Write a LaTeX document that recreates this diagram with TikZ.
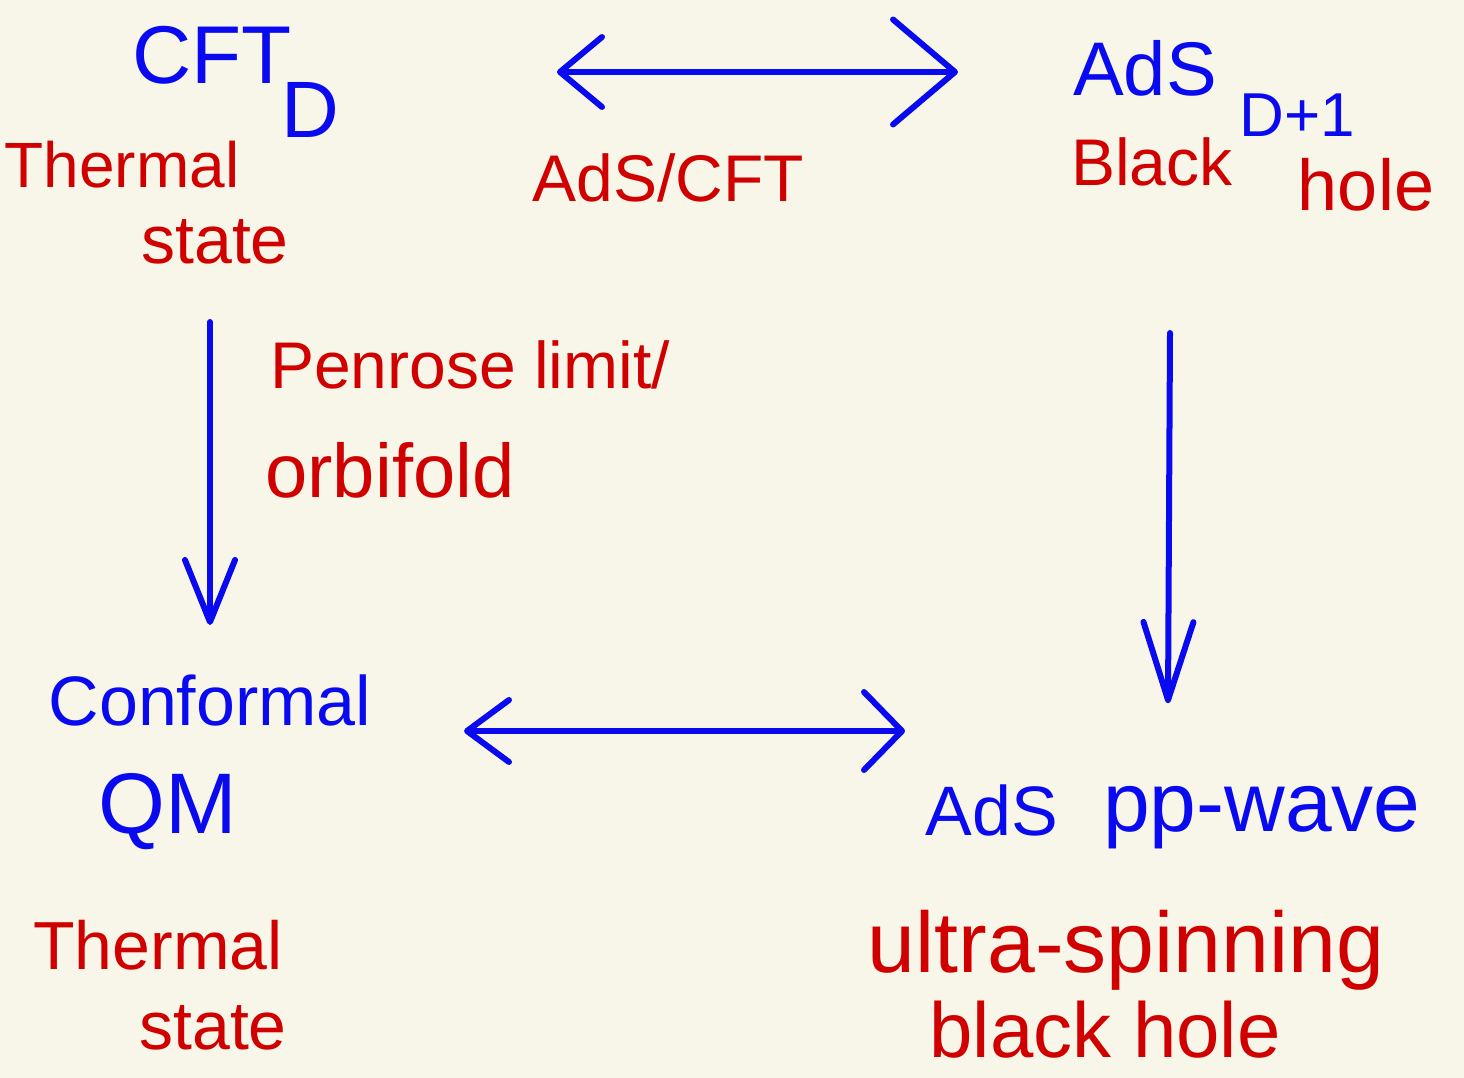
\documentclass[tikz,border=0pt]{standalone}
\usepackage{fontspec}
\setmainfont{Liberation Sans}
\usetikzlibrary{arrows.meta}
\definecolor{bgc}{HTML}{F8F5E9}
\definecolor{pen}{HTML}{0A0AF0}
\definecolor{ink}{HTML}{D00000}
\tikzset{
  fsz/.style={font=\fontsize{#1}{#1}\selectfont},
  bluetxt/.style={text=pen, inner sep=0pt, anchor=center},
  redtxt/.style={text=ink, inner sep=0pt, anchor=center},
  conn/.style={draw=pen, line width=6pt, line cap=round, line join=round},
}
\begin{document}
\begin{tikzpicture}[x=1pt,y=-1pt]
\useasboundingbox (0,0) rectangle (1464,1078);
\fill[bgc] (0,0) rectangle (1464,1078);
% top left
\node[bluetxt, fsz=82] (cft) at (212,55) {CFT};
\node[bluetxt, fsz=80] (cftD) at (310,110) {D};
\node[redtxt, fsz=64] (th1) at (122,165) {Thermal};
\node[redtxt, fsz=68] (st1) at (215,242) {state};
% top middle
\node[redtxt, fsz=66] (adscft) at (668,178) {AdS/CFT};
% top right
\node[bluetxt, fsz=76] (ads) at (1145,68) {AdS};
\node[bluetxt, fsz=62] (adsD) at (1297,115) {D+1};
\node[redtxt, fsz=66] (blk) at (1152,162) {Black};
\node[redtxt, fsz=72] (hole) at (1366,185) {hole};
% middle left label
\node[redtxt, fsz=66] (pen) at (470,365) {Penrose limit/};
\node[redtxt, fsz=76] (orb) at (390,470) {orbifold};
% bottom left
\node[bluetxt, fsz=70] (conf) at (210,700) {Conformal};
\node[bluetxt, fsz=86] (qm) at (168,812) {QM};
\node[redtxt, fsz=68] (th2) at (158,945) {Thermal};
\node[redtxt, fsz=68] (st2) at (213,1028) {state};
% bottom right
\node[bluetxt, fsz=70] (ads2) at (992,810) {AdS};
\node[bluetxt, fsz=84] (pp) at (1262,818) {pp-wave};
\node[redtxt, fsz=86] (ultra) at (1126,950) {ultra-spinning};
\node[redtxt, fsz=78] (bh) at (1105,1030) {black hole};
% arrow endpoints
\coordinate (t1) at (557,72);
\coordinate (t2) at (958,72);
\coordinate (l1) at (210,322);
\coordinate (l2) at (210,625);
\coordinate (r1) at (1170,333);
\coordinate (r2) at (1168,703);
\coordinate (b1) at (464,731);
\coordinate (b2) at (905,731);
% arrows
\draw[conn, {Straight Barb[length=42pt,width=70pt,line width=6pt,round]}-{Straight Barb[length=62pt,width=105pt,line width=6pt,round]}] (t1) -- (t2);
\draw[conn, -{Straight Barb[length=62pt,width=50pt,line width=6pt,round]}] (l1) -- (l2);
\draw[conn, -{Straight Barb[length=78pt,width=50pt,line width=6pt,round]}] (r1) -- (r2);
\draw[conn, {Straight Barb[length=42pt,width=62pt,line width=6pt,round]}-{Straight Barb[length=38pt,width=78pt,line width=6pt,round]}] (b1) -- (b2);
\end{tikzpicture}
\end{document}
